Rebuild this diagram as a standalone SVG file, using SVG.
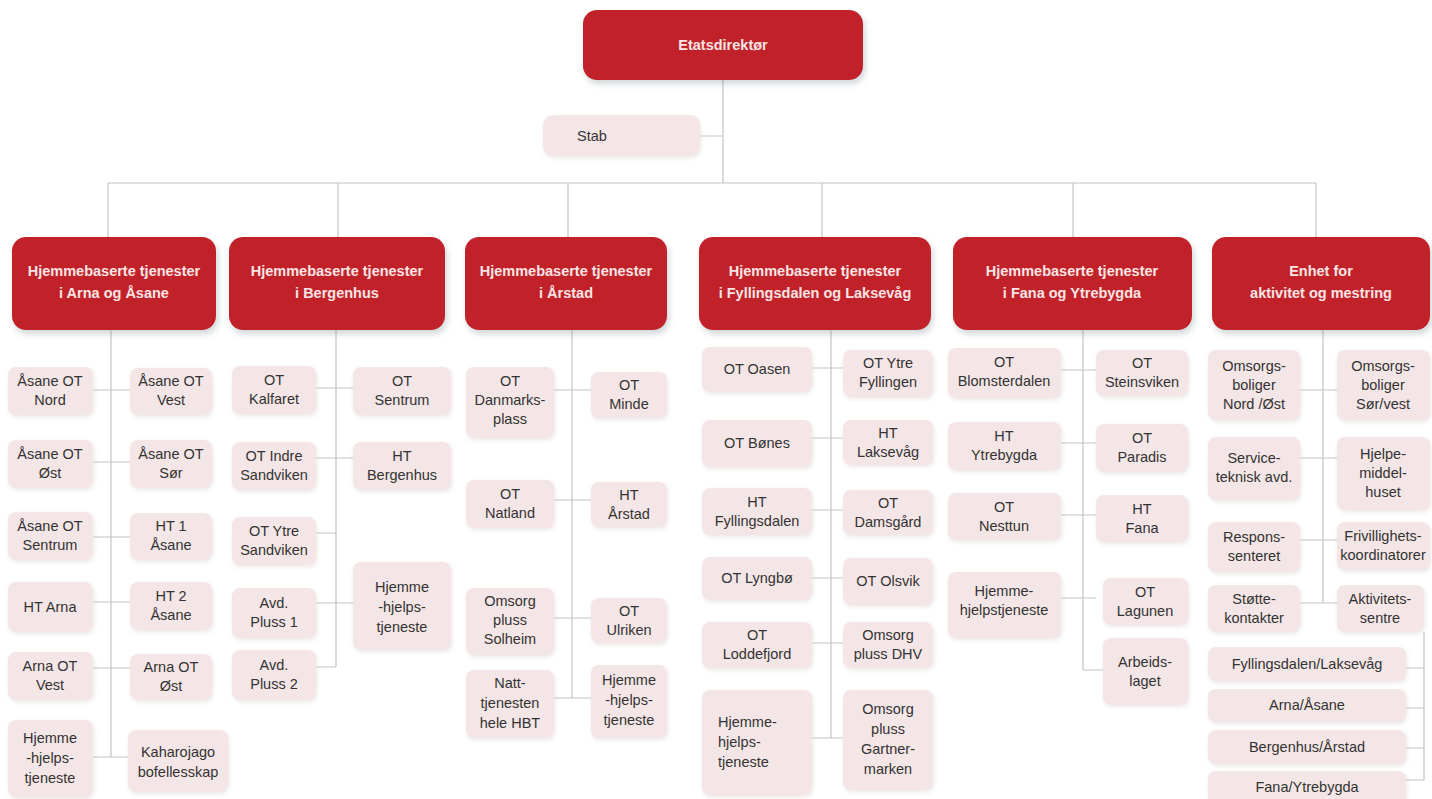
<svg xmlns="http://www.w3.org/2000/svg" width="1432" height="799" viewBox="0 0 1432 799">
<defs>
<filter id="sh" x="-10%" y="-10%" width="125%" height="140%">
<feDropShadow dx="2" dy="4" stdDeviation="3" flood-color="#7a8a90" flood-opacity="0.35"/>
</filter>
<filter id="sh2" x="-10%" y="-10%" width="125%" height="130%">
<feDropShadow dx="1" dy="2" stdDeviation="2" flood-color="#c9b8b8" flood-opacity="0.35"/>
</filter>
</defs>
<style>
.h{fill:#c1222b;filter:url(#sh)}
.c{fill:#f4e6e6;filter:url(#sh2)}
.ht{font-family:"Liberation Sans",Arial,sans-serif;font-size:14.5px;font-weight:bold;fill:#fbe4e4;text-anchor:middle}
.t{font-family:"Liberation Sans",Arial,sans-serif;font-size:14.5px;fill:#333;text-anchor:middle}
.ln{stroke:#c4c4c4;stroke-width:1.2;fill:none}
</style>
<rect width="1432" height="799" fill="#fff"/>

<g id="connectors" class="ln">
<path d="M723 80V183M700 136H723M108 183H1316M108 183V237M338 183V237M568 183V237M822 183V237M1073 183V237M1316 183V237"/>
<path d="M111 330V757M93 390H130M93 462H130M93 537H130M93 602H130M93 668H130M93 757H128"/>
<path d="M336 330V667M316 388H353M316 458H353M316 533H336M316 603H353M316 667H336"/>
<path d="M572 330V698M554 390H591M554 500H591M554 618H591M554 698H591"/>
<path d="M831 330V738M812 368H843M812 438H843M812 510H843M812 578H843M812 643H843M812 738H843"/>
<path d="M1083 330V670M1061 370H1096M1061 443H1096M1061 515H1096M1061 598H1096M1083 670H1103"/>
<path d="M1323 330V603M1300 390H1337M1300 458H1337M1300 540H1337M1300 603H1337"/>
<path d="M1424 632V780M1406 668H1424M1406 708H1424M1406 748H1424M1406 780H1424"/>
</g>

<g id="etatsdirektor"><rect class="h" x="583" y="10" width="280" height="70" rx="14"/><text class="ht" x="723" y="50">Etatsdirektør</text></g>
<g id="stab"><rect class="c" x="543" y="115" width="157" height="41" rx="10"/><text class="t" x="592" y="141">Stab</text></g>

<g id="hbt-arna-asane"><rect class="h" x="12" y="237" width="204" height="93" rx="14"/><text class="ht" x="114"><tspan x="114" y="276">Hjemmebaserte tjenester</tspan><tspan x="114" y="298">i Arna og Åsane</tspan></text></g>
<g id="hbt-bergenhus"><rect class="h" x="229" y="237" width="216" height="93" rx="14"/><text class="ht" x="337"><tspan x="337" y="276">Hjemmebaserte tjenester</tspan><tspan x="337" y="298">i Bergenhus</tspan></text></g>
<g id="hbt-arstad"><rect class="h" x="465" y="237" width="202" height="93" rx="14"/><text class="ht" x="566"><tspan x="566" y="276">Hjemmebaserte tjenester</tspan><tspan x="566" y="298">i Årstad</tspan></text></g>
<g id="hbt-fyllingsdalen"><rect class="h" x="699" y="237" width="232" height="93" rx="14"/><text class="ht" x="815"><tspan x="815" y="276">Hjemmebaserte tjenester</tspan><tspan x="815" y="298">i Fyllingsdalen og Laksevåg</tspan></text></g>
<g id="hbt-fana"><rect class="h" x="953" y="237" width="239" height="93" rx="14"/><text class="ht" x="1072"><tspan x="1072" y="276">Hjemmebaserte tjenester</tspan><tspan x="1072" y="298">i Fana og Ytrebygda</tspan></text></g>
<g id="enhet-aktivitet"><rect class="h" x="1212" y="237" width="218" height="93" rx="14"/><text class="ht" x="1321"><tspan x="1321" y="276">Enhet for</tspan><tspan x="1321" y="298">aktivitet og mestring</tspan></text></g>

<!-- Column 1 -->
<g id="c1-l1"><rect class="c" x="8" y="367" width="85" height="48" rx="8"/><text class="t"><tspan x="50" y="386">Åsane OT</tspan><tspan x="50" y="405">Nord</tspan></text></g>
<g id="c1-r1"><rect class="c" x="130" y="368" width="82" height="47" rx="8"/><text class="t"><tspan x="171" y="386">Åsane OT</tspan><tspan x="171" y="405">Vest</tspan></text></g>
<g id="c1-l2"><rect class="c" x="8" y="440" width="85" height="48" rx="8"/><text class="t"><tspan x="50" y="459">Åsane OT</tspan><tspan x="50" y="478">Øst</tspan></text></g>
<g id="c1-r2"><rect class="c" x="130" y="440" width="82" height="48" rx="8"/><text class="t"><tspan x="171" y="459">Åsane OT</tspan><tspan x="171" y="478">Sør</tspan></text></g>
<g id="c1-l3"><rect class="c" x="8" y="512" width="85" height="48" rx="8"/><text class="t"><tspan x="50" y="531">Åsane OT</tspan><tspan x="50" y="550">Sentrum</tspan></text></g>
<g id="c1-r3"><rect class="c" x="130" y="513" width="82" height="47" rx="8"/><text class="t"><tspan x="171" y="531">HT 1</tspan><tspan x="171" y="550">Åsane</tspan></text></g>
<g id="c1-l4"><rect class="c" x="8" y="582" width="85" height="50" rx="8"/><text class="t" x="50" y="612">HT Arna</text></g>
<g id="c1-r4"><rect class="c" x="130" y="582" width="82" height="48" rx="8"/><text class="t"><tspan x="171" y="601">HT 2</tspan><tspan x="171" y="620">Åsane</tspan></text></g>
<g id="c1-l5"><rect class="c" x="8" y="652" width="85" height="48" rx="8"/><text class="t"><tspan x="50" y="671">Arna OT</tspan><tspan x="50" y="690">Vest</tspan></text></g>
<g id="c1-r5"><rect class="c" x="130" y="654" width="82" height="46" rx="8"/><text class="t"><tspan x="171" y="672">Arna OT</tspan><tspan x="171" y="691">Øst</tspan></text></g>
<g id="c1-l6"><rect class="c" x="8" y="720" width="85" height="77" rx="8"/><text class="t"><tspan x="50" y="743">Hjemme</tspan><tspan x="50" y="763">-hjelps-</tspan><tspan x="50" y="783">tjeneste</tspan></text></g>
<g id="c1-r6"><rect class="c" x="128" y="730" width="100" height="62" rx="8"/><text class="t"><tspan x="178" y="757">Kaharojago</tspan><tspan x="178" y="777">bofellesskap</tspan></text></g>

<!-- Column 2 -->
<g id="c2-l1"><rect class="c" x="232" y="366" width="84" height="48" rx="8"/><text class="t"><tspan x="274" y="385">OT</tspan><tspan x="274" y="404">Kalfaret</tspan></text></g>
<g id="c2-r1"><rect class="c" x="353" y="367" width="98" height="48" rx="8"/><text class="t"><tspan x="402" y="386">OT</tspan><tspan x="402" y="405">Sentrum</tspan></text></g>
<g id="c2-l2"><rect class="c" x="232" y="442" width="84" height="48" rx="8"/><text class="t"><tspan x="274" y="461">OT Indre</tspan><tspan x="274" y="480">Sandviken</tspan></text></g>
<g id="c2-r2"><rect class="c" x="353" y="442" width="98" height="48" rx="8"/><text class="t"><tspan x="402" y="461">HT</tspan><tspan x="402" y="480">Bergenhus</tspan></text></g>
<g id="c2-l3"><rect class="c" x="232" y="517" width="84" height="48" rx="8"/><text class="t"><tspan x="274" y="536">OT Ytre</tspan><tspan x="274" y="555">Sandviken</tspan></text></g>
<g id="c2-l4"><rect class="c" x="232" y="588" width="84" height="50" rx="8"/><text class="t"><tspan x="274" y="608">Avd.</tspan><tspan x="274" y="627">Pluss 1</tspan></text></g>
<g id="c2-r4"><rect class="c" x="353" y="562" width="98" height="88" rx="8"/><text class="t"><tspan x="402" y="592">Hjemme</tspan><tspan x="402" y="612">-hjelps-</tspan><tspan x="402" y="632">tjeneste</tspan></text></g>
<g id="c2-l5"><rect class="c" x="232" y="650" width="84" height="50" rx="8"/><text class="t"><tspan x="274" y="670">Avd.</tspan><tspan x="274" y="689">Pluss 2</tspan></text></g>

<!-- Column 3 -->
<g id="c3-l1"><rect class="c" x="466" y="367" width="88" height="71" rx="8"/><text class="t"><tspan x="510" y="386">OT</tspan><tspan x="510" y="405">Danmarks-</tspan><tspan x="510" y="424">plass</tspan></text></g>
<g id="c3-r1"><rect class="c" x="591" y="372" width="76" height="46" rx="8"/><text class="t"><tspan x="629" y="390">OT</tspan><tspan x="629" y="409">Minde</tspan></text></g>
<g id="c3-l2"><rect class="c" x="466" y="480" width="88" height="48" rx="8"/><text class="t"><tspan x="510" y="499">OT</tspan><tspan x="510" y="518">Natland</tspan></text></g>
<g id="c3-r2"><rect class="c" x="591" y="482" width="76" height="45" rx="8"/><text class="t"><tspan x="629" y="500">HT</tspan><tspan x="629" y="519">Årstad</tspan></text></g>
<g id="c3-l3"><rect class="c" x="466" y="588" width="88" height="67" rx="8"/><text class="t"><tspan x="510" y="606">Omsorg</tspan><tspan x="510" y="625">pluss</tspan><tspan x="510" y="644">Solheim</tspan></text></g>
<g id="c3-r3"><rect class="c" x="591" y="598" width="76" height="45" rx="8"/><text class="t"><tspan x="629" y="616">OT</tspan><tspan x="629" y="635">Ulriken</tspan></text></g>
<g id="c3-l4"><rect class="c" x="466" y="670" width="88" height="68" rx="8"/><text class="t"><tspan x="510" y="688">Natt-</tspan><tspan x="510" y="708">tjenesten</tspan><tspan x="510" y="728">hele HBT</tspan></text></g>
<g id="c3-r4"><rect class="c" x="591" y="665" width="76" height="73" rx="8"/><text class="t"><tspan x="629" y="685">Hjemme</tspan><tspan x="629" y="705">-hjelps-</tspan><tspan x="629" y="725">tjeneste</tspan></text></g>

<!-- Column 4 -->
<g id="c4-l1"><rect class="c" x="702" y="347" width="110" height="45" rx="8"/><text class="t" x="757" y="374">OT Oasen</text></g>
<g id="c4-r1"><rect class="c" x="843" y="350" width="90" height="47" rx="8"/><text class="t"><tspan x="888" y="368">OT Ytre</tspan><tspan x="888" y="387">Fyllingen</tspan></text></g>
<g id="c4-l2"><rect class="c" x="702" y="420" width="110" height="47" rx="8"/><text class="t" x="757" y="448">OT Bønes</text></g>
<g id="c4-r2"><rect class="c" x="843" y="420" width="90" height="45" rx="8"/><text class="t"><tspan x="888" y="438">HT</tspan><tspan x="888" y="457">Laksevåg</tspan></text></g>
<g id="c4-l3"><rect class="c" x="702" y="488" width="110" height="47" rx="8"/><text class="t"><tspan x="757" y="507">HT</tspan><tspan x="757" y="526">Fyllingsdalen</tspan></text></g>
<g id="c4-r3"><rect class="c" x="843" y="490" width="90" height="45" rx="8"/><text class="t"><tspan x="888" y="508">OT</tspan><tspan x="888" y="527">Damsgård</tspan></text></g>
<g id="c4-l4"><rect class="c" x="702" y="557" width="110" height="43" rx="8"/><text class="t" x="757" y="583">OT Lyngbø</text></g>
<g id="c4-r4"><rect class="c" x="843" y="558" width="90" height="47" rx="8"/><text class="t" x="888" y="586">OT Olsvik</text></g>
<g id="c4-l5"><rect class="c" x="702" y="622" width="110" height="46" rx="8"/><text class="t"><tspan x="757" y="640">OT</tspan><tspan x="757" y="659">Loddefjord</tspan></text></g>
<g id="c4-r5"><rect class="c" x="843" y="622" width="90" height="46" rx="8"/><text class="t"><tspan x="888" y="640">Omsorg</tspan><tspan x="888" y="659">pluss DHV</tspan></text></g>
<g id="c4-l6"><rect class="c" x="702" y="690" width="110" height="105" rx="8"/><text class="t" style="text-anchor:start"><tspan x="718" y="727">Hjemme-</tspan><tspan x="718" y="747">hjelps-</tspan><tspan x="718" y="767">tjeneste</tspan></text></g>
<g id="c4-r6"><rect class="c" x="843" y="690" width="90" height="100" rx="8"/><text class="t"><tspan x="888" y="714">Omsorg</tspan><tspan x="888" y="734">pluss</tspan><tspan x="888" y="754">Gartner-</tspan><tspan x="888" y="774">marken</tspan></text></g>

<!-- Column 5 -->
<g id="c5-l1"><rect class="c" x="948" y="348" width="113" height="50" rx="8"/><text class="t"><tspan x="1004" y="367">OT</tspan><tspan x="1004" y="386">Blomsterdalen</tspan></text></g>
<g id="c5-r1"><rect class="c" x="1096" y="350" width="92" height="46" rx="8"/><text class="t"><tspan x="1142" y="368">OT</tspan><tspan x="1142" y="387">Steinsviken</tspan></text></g>
<g id="c5-l2"><rect class="c" x="948" y="422" width="113" height="48" rx="8"/><text class="t"><tspan x="1004" y="441">HT</tspan><tspan x="1004" y="460">Ytrebygda</tspan></text></g>
<g id="c5-r2"><rect class="c" x="1096" y="424" width="92" height="48" rx="8"/><text class="t"><tspan x="1142" y="443">OT</tspan><tspan x="1142" y="462">Paradis</tspan></text></g>
<g id="c5-l3"><rect class="c" x="948" y="493" width="113" height="47" rx="8"/><text class="t"><tspan x="1004" y="512">OT</tspan><tspan x="1004" y="531">Nesttun</tspan></text></g>
<g id="c5-r3"><rect class="c" x="1096" y="495" width="92" height="47" rx="8"/><text class="t"><tspan x="1142" y="514">HT</tspan><tspan x="1142" y="533">Fana</tspan></text></g>
<g id="c5-l4"><rect class="c" x="948" y="572" width="113" height="66" rx="8"/><text class="t"><tspan x="1004" y="596">Hjemme-</tspan><tspan x="1004" y="615">hjelpstjeneste</tspan></text></g>
<g id="c5-r4"><rect class="c" x="1103" y="578" width="85" height="47" rx="8"/><text class="t"><tspan x="1145" y="597">OT</tspan><tspan x="1145" y="616">Lagunen</tspan></text></g>
<g id="c5-r5"><rect class="c" x="1103" y="638" width="85" height="67" rx="8"/><text class="t"><tspan x="1145" y="667">Arbeids-</tspan><tspan x="1145" y="686">laget</tspan></text></g>

<!-- Column 6 -->
<g id="c6-l1"><rect class="c" x="1208" y="350" width="92" height="70" rx="8"/><text class="t"><tspan x="1254" y="371">Omsorgs-</tspan><tspan x="1254" y="390">boliger</tspan><tspan x="1254" y="409">Nord /Øst</tspan></text></g>
<g id="c6-r1"><rect class="c" x="1337" y="350" width="93" height="70" rx="8"/><text class="t"><tspan x="1383" y="371">Omsorgs-</tspan><tspan x="1383" y="390">boliger</tspan><tspan x="1383" y="409">Sør/vest</tspan></text></g>
<g id="c6-l2"><rect class="c" x="1208" y="437" width="92" height="63" rx="8"/><text class="t"><tspan x="1254" y="463">Service-</tspan><tspan x="1254" y="482">teknisk avd.</tspan></text></g>
<g id="c6-r2"><rect class="c" x="1337" y="437" width="93" height="73" rx="8"/><text class="t"><tspan x="1383" y="459">Hjelpe-</tspan><tspan x="1383" y="478">middel-</tspan><tspan x="1383" y="497">huset</tspan></text></g>
<g id="c6-l3"><rect class="c" x="1208" y="522" width="92" height="50" rx="8"/><text class="t"><tspan x="1254" y="542">Respons-</tspan><tspan x="1254" y="561">senteret</tspan></text></g>
<g id="c6-r3"><rect class="c" x="1337" y="522" width="93" height="48" rx="8"/><text class="t"><tspan x="1383" y="541">Frivillighets-</tspan><tspan x="1383" y="560">koordinatorer</tspan></text></g>
<g id="c6-l4"><rect class="c" x="1208" y="585" width="92" height="47" rx="8"/><text class="t"><tspan x="1254" y="604">Støtte-</tspan><tspan x="1254" y="623">kontakter</tspan></text></g>
<g id="c6-r4"><rect class="c" x="1337" y="585" width="87" height="47" rx="8"/><text class="t"><tspan x="1380" y="604">Aktivitets-</tspan><tspan x="1380" y="623">sentre</tspan></text></g>
<g id="c6-b1"><rect class="c" x="1208" y="647" width="198" height="34" rx="8"/><text class="t" x="1307" y="669">Fyllingsdalen/Laksevåg</text></g>
<g id="c6-b2"><rect class="c" x="1208" y="689" width="198" height="33" rx="8"/><text class="t" x="1307" y="710">Arna/Åsane</text></g>
<g id="c6-b3"><rect class="c" x="1208" y="730" width="198" height="34" rx="8"/><text class="t" x="1307" y="752">Bergenhus/Årstad</text></g>
<g id="c6-b4"><rect class="c" x="1208" y="771" width="198" height="34" rx="8"/><text class="t" x="1307" y="792">Fana/Ytrebygda</text></g>
</svg>
